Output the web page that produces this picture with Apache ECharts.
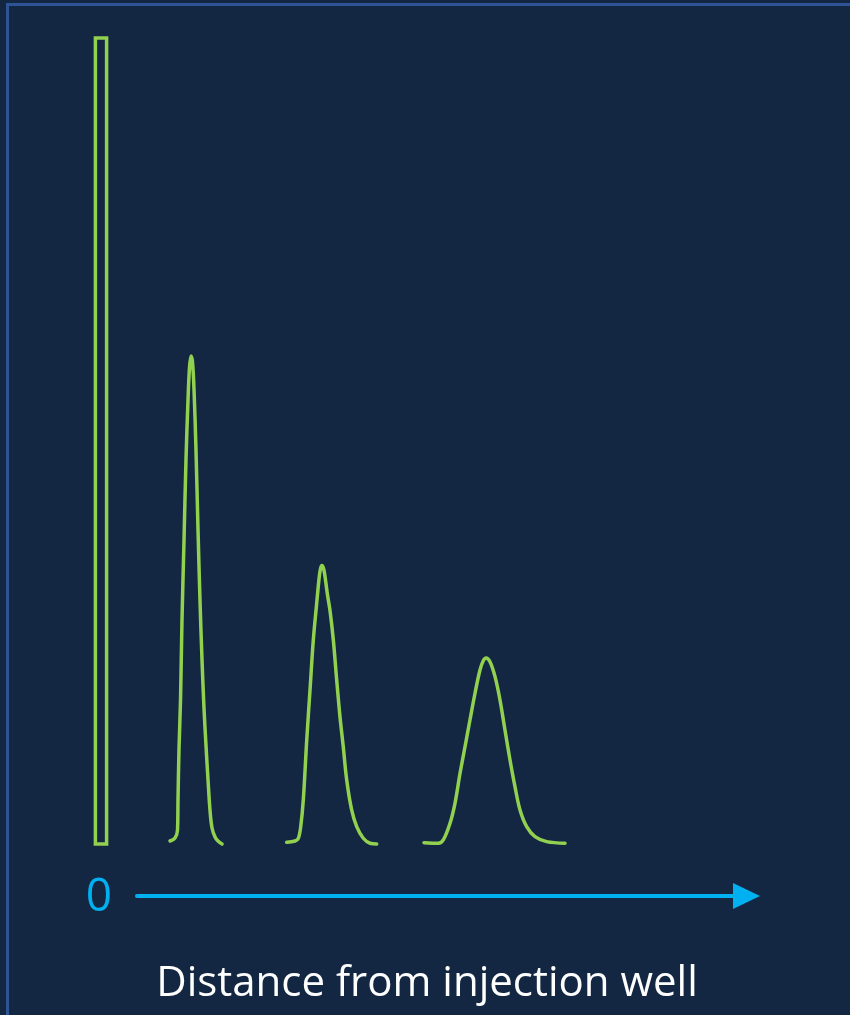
<!DOCTYPE html>
<html>
<head>
<meta charset="utf-8">
<script src="https://cdn.jsdelivr.net/npm/echarts@6/dist/echarts.min.js"></script>
<style>
  html, body { margin: 0; padding: 0; background: #132742; }
  #chart { width: 850px; height: 1015px; }
</style>
</head>
<body>
<div id="chart"></div>
<script>
// ---- data (distance units along x, relative concentration along y) ----
const slugX = [2.2, 2.2, 3.8, 3.8, 2.2];
const slugY = [0, 100, 100, 0, 0];

const peak1X = [12.86, 13.57, 13.93, 14.0, 14.14, 14.36, 14.57, 14.86, 15.14, 15.43, 15.64, 15.86, 16.07, 16.29, 16.57, 16.86, 17.14, 17.43, 17.71, 18.0, 18.29, 18.57, 18.86, 19.29, 19.71, 20.29];
const peak1Y = [0.37, 0.74, 1.74, 5.46, 11.66, 17.87, 27.79, 37.72, 47.64, 55.09, 59.06, 60.55, 59.8, 56.33, 48.88, 38.96, 30.27, 22.83, 16.9, 12.2, 7.94, 4.2, 1.99, 0.87, 0.37, 0];

const peak2X = [29.53, 30.71, 31.19, 31.53, 31.9, 32.39, 32.86, 33.33, 33.79, 34.1, 34.33, 34.57, 34.83, 35.07, 35.36, 35.71, 36.19, 36.67, 37.14, 37.61, 38.1, 38.81, 39.53, 40.47, 41.43, 42.39];
const peak2Y = [0.21, 0.37, 0.71, 2.15, 5.46, 12.9, 19.11, 25.31, 29.65, 32.51, 34.06, 34.55, 34.06, 32.75, 30.89, 29.0, 25.31, 20.35, 15.79, 12.07, 7.94, 4.22, 2.15, 0.71, 0.09, 0];

const peak3X = [49.14, 51.19, 51.9, 52.86, 53.57, 54.29, 55.0, 55.71, 56.43, 57.14, 57.61, 58.0, 58.57, 59.29, 60.0, 60.71, 61.43, 62.14, 62.86, 63.81, 65.0, 66.67, 69.29];
const peak3Y = [0.16, 0.09, 0.5, 2.57, 5.05, 8.77, 12.07, 15.38, 18.7, 21.59, 22.74, 23.08, 22.62, 20.76, 17.87, 14.14, 10.42, 7.11, 4.22, 2.15, 0.91, 0.29, 0.09];

const axisOriginLabel = '0';
const axisTitle = 'Distance from injection well';

const green = '#92d050';
const blue = '#00b0f0';

function pairs(xs, ys) { return xs.map((x, i) => [x, ys[i]]); }

const chart = echarts.init(document.getElementById('chart'), null, { renderer: 'canvas' });

const peakSeries = (xs, ys) => ({
  type: 'line',
  xAxisIndex: 0, yAxisIndex: 0,
  data: pairs(xs, ys),
  smooth: 0.35,
  symbol: 'none',
  clip: false,
  lineStyle: { color: green, width: 3.5, join: 'round', cap: 'round' },
  silent: true,
  animation: false
});

chart.setOption({
  backgroundColor: '#132742',
  animation: false,
  grid: [
    { left: 80, right: 70, top: 38, bottom: 171 },
    { left: 137, right: 103.5, top: 800, bottom: 119 }
  ],
  xAxis: [
    { gridIndex: 0, type: 'value', min: 0, max: 100, show: false },
    {
      gridIndex: 1, type: 'value', min: 0, max: 100,
      axisLine: { show: true, symbol: ['none', 'triangle'], symbolSize: [26, 27], lineStyle: { color: blue, width: 4 } },
      axisTick: { show: false }, axisLabel: { show: false }, splitLine: { show: false }
    }
  ],
  yAxis: [
    { gridIndex: 0, type: 'value', min: 0, max: 100, show: false },
    { gridIndex: 1, type: 'value', min: 0, max: 1, show: false }
  ],
  series: [
    {
      type: 'line',
      xAxisIndex: 0, yAxisIndex: 0,
      data: pairs(slugX, slugY),
      symbol: 'none',
      clip: false,
      lineStyle: { color: green, width: 3.5, cap: 'square', join: 'miter' },
      animation: false
    },
    peakSeries(peak1X, peak1Y),
    peakSeries(peak2X, peak2Y),
    peakSeries(peak3X, peak3Y)
  ],
  graphic: [
    {
      type: 'rect', z: -10, silent: true,
      shape: { x: 7.5, y: 4.5, width: 1000, height: 1200 },
      style: { fill: 'none', stroke: '#2f5496', lineWidth: 3 }
    },
    {
      type: 'text', silent: true, x: 99, y: 898,
      style: { text: axisOriginLabel, fill: blue, font: '46px "Open Sans", sans-serif', textAlign: 'center', textVerticalAlign: 'middle' }
    },
    {
      type: 'text', silent: true, x: 427, y: 984,
      style: { text: axisTitle, fill: '#ffffff', font: '42px "Open Sans", sans-serif', textAlign: 'center', textVerticalAlign: 'middle' }
    }
  ]
});
</script>
</body>
</html>
